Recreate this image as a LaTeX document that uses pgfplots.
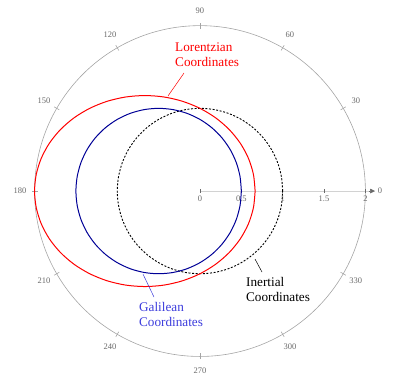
\documentclass[border=0pt]{standalone}
\usepackage{fontspec}
\setmainfont{Liberation Serif}
\usepackage{pgfplots}
\pgfplotsset{compat=1.18}
\usetikzlibrary{arrows.meta}
\definecolor{galcurve}{RGB}{0,0,150}
\definecolor{galtext}{RGB}{60,60,220}
\definecolor{axgray}{RGB}{165,165,165}
\definecolor{radgray}{RGB}{210,210,210}
\definecolor{lblgray}{RGB}{105,105,105}
\begin{document}
\begin{tikzpicture}
\begin{axis}[hide axis, x=82.7pt, y=82.7pt,
  xmin=-2.418, xmax=2.346, ymin=-2.370, ymax=2.310, clip=false]
% outer circle and angular ticks
\draw[axgray, line width=0.6pt] (axis cs:0,0) circle [radius=165.4pt];
\pgfplotsinvokeforeach{0,30,...,330}{
  \draw[axgray, line width=0.6pt] ([shift={(#1:162.4pt)}]axis cs:0,0) -- ([shift={(#1:168.4pt)}]axis cs:0,0);
  \node[lblgray, font=\fontsize{8.5}{9}\selectfont, inner sep=0pt] at ([shift={(#1:180pt)}]axis cs:0,0) {#1};
}
% radial axis
\draw[radgray, line width=0.7pt] (axis cs:0,0) -- (axis cs:2.05,0);
\draw[lblgray, -{Triangle[length=5pt,width=4.5pt]}, line width=0.5pt] (axis cs:2.04,0) -- (axis cs:2.118,0);
\pgfplotsinvokeforeach{0,0.5,1,1.5,2}{
  \draw[lblgray, line width=0.5pt] (axis cs:#1,-0.02) -- (axis cs:#1,0.02);
  \node[lblgray, font=\fontsize{8.5}{9}\selectfont, inner sep=0pt] at (axis cs:#1,-0.09) {#1};
}
% Inertial (dashed unit circle)
\addplot[black, line width=0.9pt, dash pattern=on 2pt off 1.6pt, smooth] coordinates {
(1,0) (0.9848,0.1736) (0.9397,0.3420) (0.8660,0.5) (0.7660,0.6428) (0.6428,0.7660)
(0.5,0.8660) (0.3420,0.9397) (0.1736,0.9848) (0,1) (-0.1736,0.9848) (-0.3420,0.9397)
(-0.5,0.8660) (-0.6428,0.7660) (-0.7660,0.6428) (-0.8660,0.5) (-0.9397,0.3420) (-0.9848,0.1736)
(-1,0) (-0.9848,-0.1736) (-0.9397,-0.3420) (-0.8660,-0.5) (-0.7660,-0.6428) (-0.6428,-0.7660)
(-0.5,-0.8660) (-0.3420,-0.9397) (-0.1736,-0.9848) (0,-1) (0.1736,-0.9848) (0.3420,-0.9397)
(0.5,-0.8660) (0.6428,-0.7660) (0.7660,-0.6428) (0.8660,-0.5) (0.9397,-0.3420) (0.9848,-0.1736) (1,0)
};
% Galilean
\addplot[galcurve, line width=1pt, smooth] coordinates {
(0.5,0) (0.4848,0.1736) (0.4397,0.3420) (0.3660,0.5) (0.2660,0.6428) (0.1428,0.7660)
(0,0.8660) (-0.1580,0.9397) (-0.3264,0.9848) (-0.5,1) (-0.6736,0.9848) (-0.8420,0.9397)
(-1,0.8660) (-1.1428,0.7660) (-1.2660,0.6428) (-1.3660,0.5) (-1.4397,0.3420) (-1.4848,0.1736)
(-1.5,0) (-1.4848,-0.1736) (-1.4397,-0.3420) (-1.3660,-0.5) (-1.2660,-0.6428) (-1.1428,-0.7660)
(-1,-0.8660) (-0.8420,-0.9397) (-0.6736,-0.9848) (-0.5,-1) (-0.3264,-0.9848) (-0.1580,-0.9397)
(0,-0.8660) (0.1428,-0.7660) (0.2660,-0.6428) (0.3660,-0.5) (0.4397,-0.3420) (0.4848,-0.1736) (0.5,0)
};
% Lorentzian
\addplot[red, line width=1pt, smooth] coordinates {
(0.6667,0) (0.6464,0.2005) (0.5863,0.3949) (0.4880,0.5774) (0.3547,0.7422) (0.1904,0.8845)
(0,1) (-0.2107,1.0851) (-0.4352,1.1372) (-0.6667,1.1547) (-0.8982,1.1372) (-1.1227,1.0851)
(-1.3333,1) (-1.5238,0.8845) (-1.6880,0.7422) (-1.8214,0.5774) (-1.9196,0.3949) (-1.9798,0.2005)
(-2,0) (-1.9798,-0.2005) (-1.9196,-0.3949) (-1.8214,-0.5774) (-1.6880,-0.7422) (-1.5238,-0.8845)
(-1.3333,-1) (-1.1227,-1.0851) (-0.8982,-1.1372) (-0.6667,-1.1547) (-0.4352,-1.1372) (-0.2107,-1.0851)
(0,-1) (0.1904,-0.8845) (0.3547,-0.7422) (0.4880,-0.5774) (0.5863,-0.3949) (0.6464,-0.2005) (0.6667,0)
};
% annotations
\draw[red, line width=0.5pt] (axis cs:-0.193,1.427) -- (axis cs:-0.387,1.149);
\node[red, anchor=west, align=left, inner sep=0pt, font=\fontsize{13.2}{15}\selectfont] at (axis cs:-0.302,1.651) {Lorentzian\\Coordinates};
\draw[galtext, line width=0.5pt] (axis cs:-0.689,-1.004) -- (axis cs:-0.556,-1.282);
\node[galtext, anchor=west, align=left, inner sep=0pt, font=\fontsize{13.2}{15}\selectfont] at (axis cs:-0.738,-1.493) {Galilean\\Coordinates};
\draw[black, line width=0.5pt] (axis cs:0.665,-0.822) -- (axis cs:0.750,-0.979);
\node[black, anchor=west, align=left, inner sep=0pt, font=\fontsize{13.2}{15}\selectfont] at (axis cs:0.556,-1.191) {Inertial\\Coordinates};
\end{axis}
\pgfresetboundingbox
\useasboundingbox (current axis.south west) rectangle (current axis.north east);
\end{tikzpicture}
\end{document}
